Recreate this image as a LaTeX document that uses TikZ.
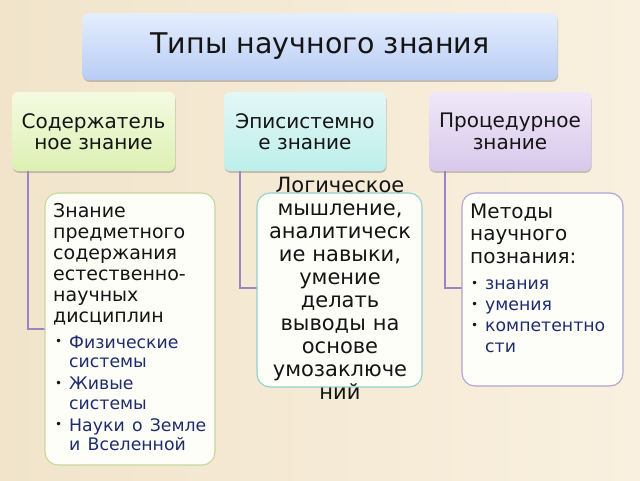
\documentclass[tikz,border=0pt]{standalone}
\usepackage{fontspec}
\setmainfont{DejaVu Sans}
\usetikzlibrary{shadows}
\definecolor{bgL}{HTML}{F1E4CB}
\definecolor{bgR}{HTML}{F9F0DF}
\definecolor{titT}{HTML}{E5EEFC}
\definecolor{titB}{HTML}{B8CCF5}
\definecolor{grT}{HTML}{F5FAE2}
\definecolor{grB}{HTML}{DCF1B2}
\definecolor{cyT}{HTML}{E3F7F6}
\definecolor{cyB}{HTML}{BDEFEA}
\definecolor{lvT}{HTML}{F0E8F8}
\definecolor{lvB}{HTML}{D8C8EB}
\definecolor{grBd}{HTML}{C4DA9A}
\definecolor{cyBd}{HTML}{90D2CA}
\definecolor{lvBd}{HTML}{B4A1D4}
\definecolor{conn}{HTML}{9C84C4}
\definecolor{navy}{HTML}{1E2C6B}
\definecolor{ink}{HTML}{141414}
\definecolor{paper}{HTML}{FEFEF9}
\newlength\bind
\newlength\bpre
\newcommand\bul[1]{\par\hangindent=\bind\hangafter=1\noindent\makebox[\bind][l]{\hspace{\bpre}\color{ink}\raisebox{2.5pt}{\fontsize{12}{12}\selectfont•}}{\color{navy}#1}}
\tikzset{
  topbox/.style={rounded corners=6pt, inner sep=0pt, text=ink,
    drop shadow={shadow xshift=0.6pt, shadow yshift=-1.8pt, opacity=0.35, fill=black!60}},
  detbox/.style={draw, line width=1.1pt, fill=paper, rounded corners=13pt, inner sep=0pt},
  txt/.style={inner sep=0pt, text=ink, align=left},
  connline/.style={draw=conn, line width=1.8pt}
}
\begin{document}
\begin{tikzpicture}[x=1pt,y=-1pt]
\shade[left color=bgL, right color=bgR] (0,0) rectangle (640,480);
\useasboundingbox (0,0) rectangle (640,480);
% title
\node[topbox, top color=titT, bottom color=titB, minimum width=475pt, minimum height=67pt,
  font=\fontsize{28.5}{33}\selectfont] (title) at (320,46.5) {Типы научного знания};
% level 2
\node[topbox, top color=grT, bottom color=grB, minimum width=163pt, minimum height=79pt,
  align=center, font=\fontsize{20}{21.5}\selectfont] (k1) at (93.5,131.5) {Содержатель\\ное знание};
\node[topbox, top color=cyT, bottom color=cyB, minimum width=162pt, minimum height=79pt,
  align=center, font=\fontsize{20}{21.5}\selectfont] (k2) at (305,131.5) {Эписистемно\\е знание};
\node[topbox, top color=lvT, bottom color=lvB, minimum width=162pt, minimum height=79pt,
  align=center, font=\fontsize{20}{21.5}\selectfont] (k3) at (510,131.5) {Процедурное\\знание};
% connector points
\coordinate (s1) at (28,171);
\coordinate (e1) at (45,329);
\coordinate (s2) at (240,171);
\coordinate (e2) at (257,288);
\coordinate (s3) at (445,171);
\coordinate (e3) at (462,288);
\draw[connline] (s1) |- (e1);
\draw[connline] (s2) |- (e2);
\draw[connline] (s3) |- (e3);
% detail boxes
\node[detbox, draw=grBd, minimum width=170pt, minimum height=272pt] (d1) at (130,329) {};
\node[detbox, draw=cyBd, minimum width=165pt, minimum height=194pt] (d2) at (339.5,290) {};
\node[detbox, draw=lvBd, minimum width=161pt, minimum height=193pt] (d3) at (542.5,289.5) {};
% texts
\node[txt, text width=165pt, anchor=base west] (t1) at (53,217) {%
  \fontsize{19}{21}\selectfont Знание\\предметного\\содержания\\естественно-\\научных\\дисциплин\par
  \fontsize{17.3}{19.5}\selectfont\setlength\bind{16pt}\setlength\bpre{2pt}\setlength\parskip{2.5pt}%
  \spaceskip=0.42em plus 0.1em\relax
  \vspace{4pt}%
  \bul{Физические\newline системы}
  \bul{Живые\newline системы}
  \bul{Науки о Земле\newline и Вселенной}\par};
\node[inner sep=0pt, text=ink, align=center, text width=170pt, anchor=base,
  font=\fontsize{21}{23}\selectfont] (t2) at (340,192)
  {Логическое\\мышление,\\аналитическ\\ие навыки,\\умение\\делать\\выводы на\\основе\\умозаключе\\ний};
\node[txt, text width=155pt, anchor=base west] (t3) at (470,218) {%
  \fontsize{20}{22.5}\selectfont Методы\\научного\\познания:\par
  \fontsize{17.3}{21}\selectfont\setlength\bind{15pt}\setlength\bpre{1pt}\setlength\parskip{0pt}%
  \vspace{5.5pt}%
  \bul{знания}
  \bul{умения}
  \bul{компетентно\newline сти}\par};
\end{tikzpicture}
\end{document}
